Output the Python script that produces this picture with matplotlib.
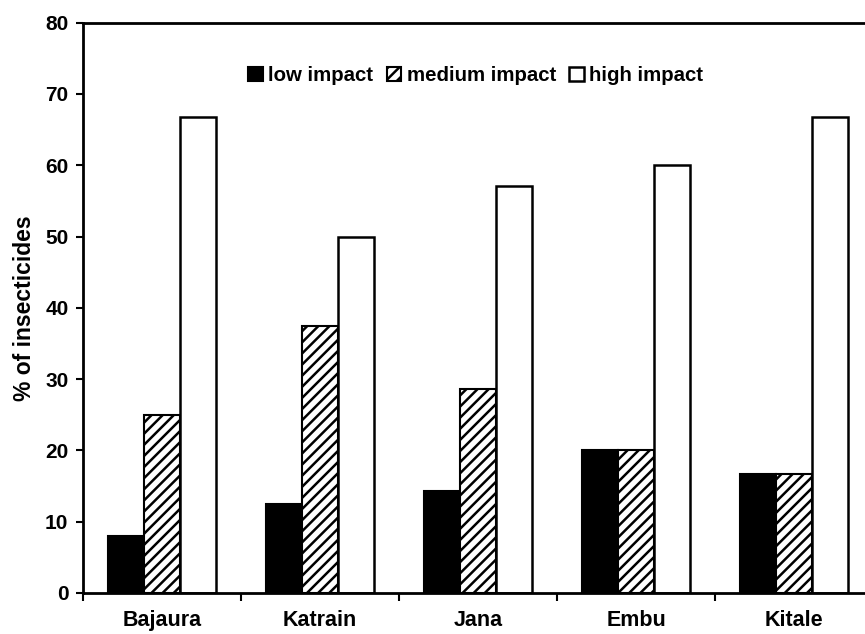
import numpy as np
import matplotlib.pyplot as plt

plt.rcParams['font.family'] = ['Liberation Sans', 'DejaVu Sans']
plt.rcParams['font.weight'] = 'bold'
plt.rcParams['hatch.linewidth'] = 1.8

# Data
sites = ["Bajaura", "Katrain", "Jana", "Embu", "Kitale"]
low_impact = [8.0, 12.5, 14.3, 20.0, 16.7]
medium_impact = [25.0, 37.5, 28.6, 20.0, 16.7]
high_impact = [66.7, 50.0, 57.1, 60.0, 66.7]
series_labels = ["low impact", "medium impact", "high impact"]

fig = plt.figure(figsize=(8.65, 6.34), dpi=100)
# axes runs past the right edge of the figure, like the original
ax = fig.add_axes([83 / 865, 1 - 593 / 634, 790 / 865, (593 - 22.6) / 634])

x = np.arange(len(sites))
w = 0.227
ax.bar(x - w, low_impact, w, color="black", edgecolor="black", linewidth=1.5,
       label=series_labels[0])
ax.bar(x, medium_impact, w, color="white", edgecolor="black", hatch="///",
       linewidth=1.5, label=series_labels[1])
ax.bar(x + w, high_impact, w, color="white", edgecolor="black", linewidth=1.8,
       label=series_labels[2])

ax.set_xlim(-0.5, 4.5)
ax.set_ylim(0, 80)
ax.set_yticks(np.arange(0, 81, 10))
ax.set_xticks(x)
ax.set_xticklabels(sites, fontsize=15.5, fontweight="bold")
ax.tick_params(axis="x", which="major", length=0, pad=12)
ax.set_xticks(np.arange(-0.5, 4.5, 1.0), minor=True)
ax.tick_params(axis="x", which="minor", length=6, width=1.5, direction="out")
ax.tick_params(axis="y", length=5, width=1.5, direction="out", labelsize=15, pad=5.5)
for lab in ax.get_yticklabels():
    lab.set_fontweight("bold")

for s in ax.spines.values():
    s.set_linewidth(2)

ax.set_ylabel("% of insecticides", fontsize=16.5, fontweight="bold", labelpad=6.5)

leg = ax.legend(loc="center", bbox_to_anchor=(0.497, 0.907), ncol=3,
                frameon=False, handlelength=0.73, handleheight=0.73,
                handletextpad=0.25, columnspacing=0.64, borderpad=0,
                prop={"weight": "bold", "size": 14.7})

fig.savefig("out.png", dpi=100)
